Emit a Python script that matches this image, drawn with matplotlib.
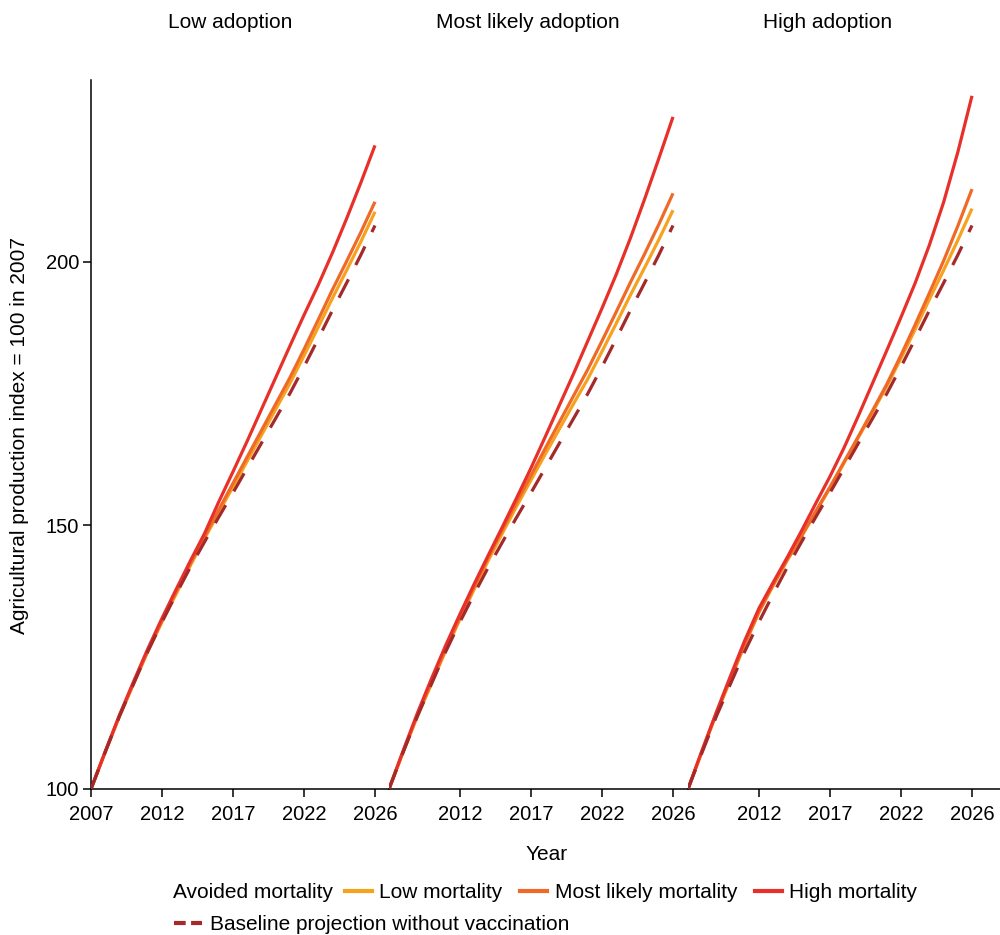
import numpy as np
import matplotlib.pyplot as plt
from matplotlib.lines import Line2D
from matplotlib.transforms import blended_transform_factory

plt.rcParams['font.family'] = ['Liberation Sans', 'DejaVu Sans']
plt.rcParams['font.size'] = 15

# x axis: 21 yearly steps, labelled as in the source chart
steps = np.arange(21)
tick_pos = [0, 5, 10, 15, 20]
tick_labels = ['2007', '2012', '2017', '2022', '2026']

panel_titles = ['Low adoption', 'Most likely adoption', 'High adoption']

baseline = [100, 107.0, 113.8, 120.0, 126.1, 131.7, 137.0, 142.1, 146.9, 151.6, 156.2,
            160.9, 165.6, 170.3, 175.0, 180.1, 185.4, 190.8, 196.0, 201.3, 206.9]

low_adopt_low = [100, 107.0, 113.8, 120.0, 126.1, 131.7, 137.0, 142.4, 147.5, 152.5, 157.3,
                 162.2, 167.1, 172.0, 176.9, 182.2, 187.6, 193.1, 198.4, 203.8, 209.5]
low_adopt_ml = [100, 107.0, 113.8, 120.0, 126.2, 131.9, 137.4, 142.8, 147.9, 153.0, 158.0,
                163.0, 168.0, 173.0, 178.0, 183.4, 189.0, 194.7, 200.1, 205.6, 211.4]
low_adopt_high = [100, 107.1, 114.0, 120.4, 126.6, 132.4, 137.9, 143.3, 148.5, 154.5, 160.2,
                  166.0, 172.0, 178.0, 184.0, 189.9, 195.6, 201.7, 208.2, 215.0, 222.1]

ml_adopt_low = [100, 107.0, 113.8, 120.0, 126.3, 132.2, 137.9, 143.4, 148.6, 153.7, 158.6,
                163.5, 168.3, 173.1, 177.8, 183.0, 188.3, 193.7, 198.9, 204.2, 209.8]
ml_adopt_ml = [100, 107.1, 114.0, 120.3, 126.6, 132.6, 138.4, 144.0, 149.3, 154.5, 159.5,
               164.6, 169.6, 174.6, 179.6, 185.0, 190.5, 196.1, 201.5, 207.1, 213.0]
ml_adopt_high = [100, 107.3, 114.4, 121.0, 127.3, 133.2, 138.9, 144.4, 149.8, 155.3, 160.9,
                 166.8, 172.8, 178.8, 185.0, 191.2, 197.6, 204.5, 211.9, 219.6, 227.5]

high_adopt_low = [100, 107.2, 114.2, 120.8, 127.4, 133.5, 138.6, 143.4, 147.9, 152.5, 157.1,
                  161.9, 166.7, 171.5, 176.4, 181.7, 187.2, 192.9, 198.4, 204.1, 210.1]
high_adopt_ml = [100, 107.3, 114.4, 121.0, 127.6, 133.7, 138.8, 143.6, 148.1, 152.7, 157.3,
                 162.1, 166.9, 171.8, 176.8, 182.3, 188.1, 194.1, 200.2, 206.8, 213.8]
high_adopt_high = [100, 107.4, 114.6, 121.5, 128.2, 134.3, 139.2, 144.0, 149.0, 154.2, 159.3,
                   164.8, 170.8, 177.0, 183.2, 189.5, 196.0, 203.2, 211.3, 220.8, 231.5]

panels = [
    (low_adopt_low, low_adopt_ml, low_adopt_high),
    (ml_adopt_low, ml_adopt_ml, ml_adopt_high),
    (high_adopt_low, high_adopt_ml, high_adopt_high),
]

series_labels = ['Low mortality', 'Most likely mortality', 'High mortality']
series_colors = ['#F7A21E', '#EF6A27', '#E8302A']
base_color = '#A3292B'
base_label = 'Baseline projection without vaccination'

W, H = 1000, 935
fig = plt.figure(figsize=(W / 100, H / 100), dpi=100)

px_per_step = 14.2
lefts = [91, 389, 688]
widths = [298, 299, 312]
ax_bottom, ax_top = 789, 80

axes = []
for k, (left, width) in enumerate(zip(lefts, widths)):
    ax = fig.add_axes([left / W, 1 - ax_bottom / H, width / W, (ax_bottom - ax_top) / H])
    axes.append(ax)
    for vals, col in zip(panels[k], series_colors):
        ax.plot(steps, vals, color=col, lw=2.3, solid_capstyle='butt', zorder=2)
    ax.plot(steps, baseline, color=base_color, lw=2.3, dashes=(6.5, 5), zorder=3)

    ax.set_xlim(0, width / px_per_step)
    ax.set_ylim(100, 234.5)
    for s in ['top', 'right']:
        ax.spines[s].set_visible(False)
    ax.spines['bottom'].set_linewidth(1.1)
    ax.spines['left'].set_linewidth(1.1)
    ax.tick_params(axis='x', direction='out', length=5.5, width=1.1, labelsize=14.5, pad=6)
    ax.tick_params(axis='y', direction='out', length=5.5, width=1.1, labelsize=14.5, pad=3)
    if k == 0:
        ax.set_xticks(tick_pos)
        ax.set_xticklabels(tick_labels)
        ax.set_yticks([100, 150, 200])
    else:
        ax.set_xticks(tick_pos[1:])
        ax.set_xticklabels(tick_labels[1:])
        ax.spines['left'].set_visible(False)
        ax.set_yticks([])
    ax.patch.set_alpha(0)

    tr = blended_transform_factory(ax.transData, fig.transFigure)
    ax.text(9.8, 1 - 23 / H, panel_titles[k], transform=tr, ha='center', va='center', fontsize=15)

fig.text(20 / W, 1 - 436 / H, 'Agricultural production index = 100 in 2007',
         rotation=90, ha='center', va='center', fontsize=15)
fig.text(547 / W, 1 - 855 / H, 'Year', ha='center', va='center', fontsize=15)

# legend, row 1
fig.text(173 / W, 1 - 893 / H, 'Avoided mortality', ha='left', va='center', fontsize=15)
handles = [Line2D([], [], color=c, lw=3) for c in series_colors]
fig.legend(handles, series_labels, loc='center left', bbox_to_anchor=(345 / W, 1 - 893 / H),
           ncol=3, frameon=False, borderpad=0, borderaxespad=0, handlelength=1.3,
           handletextpad=0.35, columnspacing=0.85, fontsize=15)
# legend, row 2
base_handle = Line2D([], [], color=base_color, lw=3, dashes=(2.8, 1.3))
fig.legend([base_handle], [base_label], loc='center left', bbox_to_anchor=(174 / W, 1 - 925 / H),
           frameon=False, borderpad=0, borderaxespad=0, handlelength=1.35,
           handletextpad=0.4, fontsize=15)

fig.savefig('out.png', dpi=100)
